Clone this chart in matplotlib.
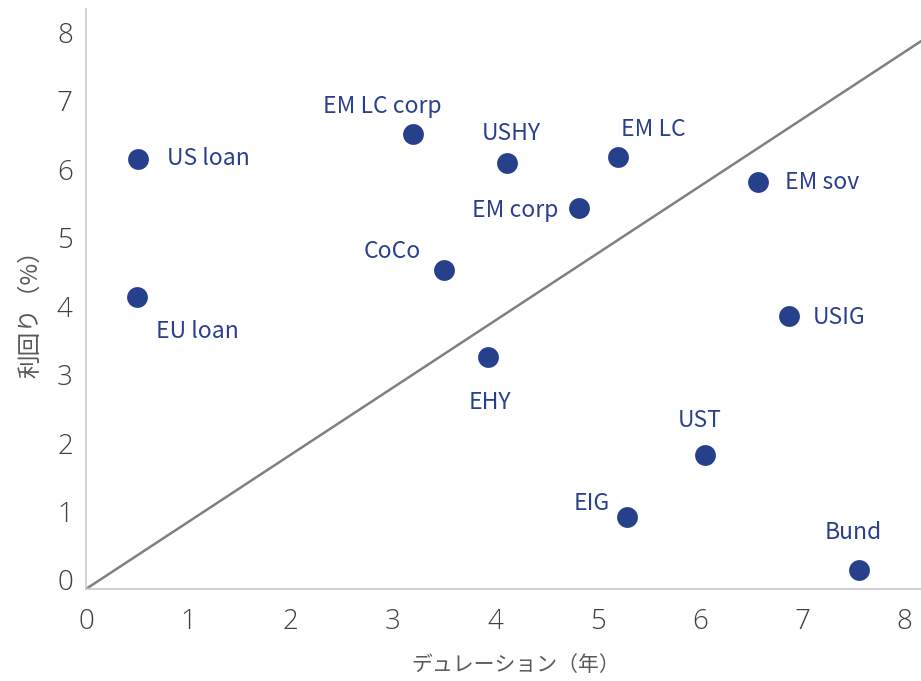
import matplotlib
matplotlib.use("Agg")
import matplotlib.pyplot as plt
import matplotlib.transforms as mtransforms

plt.rcParams['font.family'] = ['Noto Sans CJK JP', 'DejaVu Sans']

# Asset classes: duration (years) vs yield (%)
names = ["US loan", "EU loan", "EM LC corp", "USHY", "EM LC", "EM corp",
         "EM sov", "CoCo", "USIG", "EHY", "UST", "EIG", "Bund"]
duration = [0.51, 0.50, 3.20, 4.11, 5.20, 4.82, 6.57, 3.50, 6.87, 3.93, 6.05, 5.29, 7.55]
yields = [6.28, 4.26, 6.64, 6.22, 6.31, 5.56, 5.94, 4.66, 3.99, 3.39, 1.96, 1.05, 0.28]

# Reference line through the origin
line_x = [0, 8.16]
line_y = [0, 8.0]

x_ticks = [0, 1, 2, 3, 4, 5, 6, 7, 8]
y_ticks = [0, 1, 2, 3, 4, 5, 6, 7, 8]

# label placement: (dx, dy) in pixels, horizontal alignment
label_pos = [
    (29, 0, "left"), (19, -34, "left"), (-31, 28, "center"), (5, 30, "center"),
    (35, 27, "center"), (-21, -2, "right"), (27, 0, "left"), (-23, 18, "right"),
    (24, -2, "left"), (2, -46, "center"), (-5, 34, "center"), (-17, 14, "right"),
    (-5, 37, "center"),
]

W, H = 921, 681
fig = plt.figure(figsize=(W / 100, H / 100), dpi=100)
ax = fig.add_axes([86 / W, (H - 589) / H, (W - 86) / W, (589 - 9) / H])

ax.set_xlim(0, 8.16)
ax.set_ylim(0, 8.47)

ax.plot(line_x, line_y, color="#808080", lw=1.8, zorder=1)
ax.plot(duration, yields, "o", ms=15, color="#27408B", mec="none", zorder=3)

for n, x, y, (dx, dy, ha) in zip(names, duration, yields, label_pos):
    ax.annotate(n, (x, y), xytext=(dx, dy), textcoords="offset pixels",
                ha=ha, va="center", fontsize=16.5, color="#2A3F8E")

for s in ["top", "right"]:
    ax.spines[s].set_visible(False)
for s in ["left", "bottom"]:
    ax.spines[s].set_color("#C8C8C8")
    ax.spines[s].set_linewidth(1.2)

ax.set_xticks(x_ticks)
ax.set_yticks(y_ticks)
ax.tick_params(length=0, labelsize=20, colors="#404040")
ax.tick_params(axis="x", pad=14)
ax.tick_params(axis="y", pad=9.5)
offset = mtransforms.ScaledTranslation(0, 9 / 100, fig.dpi_scale_trans)
for lbl in ax.get_yticklabels():
    lbl.set_transform(lbl.get_transform() + offset)
for lbl in ax.get_xticklabels() + ax.get_yticklabels():
    lbl.set_fontfamily(["Open Sans", "DejaVu Sans"])
    lbl.set_fontweight("light")

ax.set_xlabel("デュレーション（年）", fontsize=15, color="#595959", labelpad=14)
ax.xaxis.set_label_coords(0.515, -0.1315)
ax.xaxis.label.set_va("center")
ax.set_ylabel("利回り（%）", fontsize=17, color="#595959")
ax.yaxis.set_label_coords(-55 / (W - 86), (589 - 308) / (589 - 9))
ax.yaxis.label.set_va("center")

fig.savefig("out.png", dpi=100)
